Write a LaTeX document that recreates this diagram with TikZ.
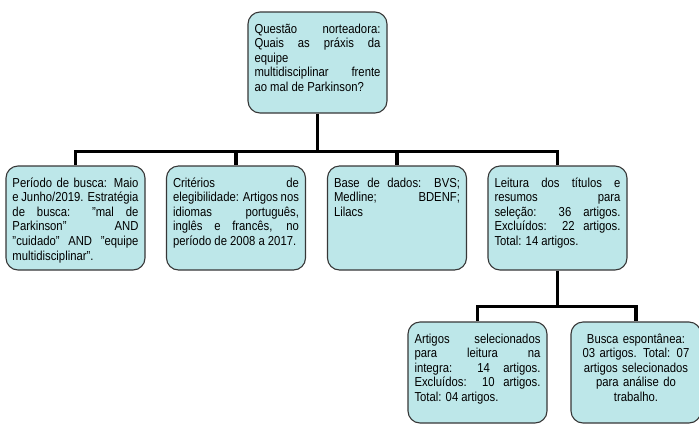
\documentclass[tikz,border=0pt]{standalone}
\usepackage{fontspec}
\setmainfont{Liberation Sans}[FakeStretch=0.87]
\usepackage{tikz}
\hyphenpenalty=10000
\exhyphenpenalty=10000
\tolerance=10000
\hbadness=10000
\definecolor{boxfill}{RGB}{189,231,233}
\definecolor{boxline}{RGB}{55,55,55}
\newcommand{\nl}{\linebreak}

\begin{document}
\begin{tikzpicture}[x=1pt,y=1pt,
  box/.style={draw=boxline, fill=boxfill, rounded corners=12pt, line width=1.1pt,
    text width=126pt, inner xsep=6.5pt, inner ysep=6pt, align=justify,
    text height=15pt, font=\fontsize{13}{14.6}\selectfont},
  conn/.style={line width=3.2pt}]
  \useasboundingbox (0,0) rectangle (699,-424);
  \node[box, text depth=74pt] (q) at (317.5,-62.5)
    {Questão norteadora:\nl Quais as práxis da\nl equipe\\multidisciplinar frente\nl ao mal de Parkinson?};
  \node[box, text depth=77pt] (busca) at (75.5,-218)
    {Período de busca: Maio\nl e Junho/2019. Estratégia\nl de busca: "mal de\nl Parkinson" AND\nl "cuidado" AND "equipe\nl multidisciplinar".};
  \node[box, text depth=77pt] (crit) at (236,-218)
    {Critérios de\nl elegibilidade: Artigos nos\nl idiomas português,\nl inglês e francês, no\nl período de 2008 a 2017.};
  \node[box, text depth=77pt] (base) at (397,-218)
    {Base de dados: BVS;\nl Medline; BDENF;\nl Lilacs};
  \node[box, text depth=77pt] (leit) at (557.5,-218)
    {Leitura dos títulos e\nl resumos para\nl seleção: 36 artigos.\nl Excluídos: 22 artigos.\nl Total: 14 artigos.};
  \node[box, text depth=74pt] (sel) at (477.5,-372.5)
    {Artigos selecionados\nl para leitura na\nl integra: 14 artigos.\nl Excluídos: 10 artigos.\nl Total: 04 artigos.};
  \node[box, text depth=74pt, text width=117pt, align=center] (esp) at (636,-372.5)
    {Busca espontânea:\\03 artigos. Total: 07\\artigos selecionados\\para análise do\\trabalho.};
  \draw[conn] (q.south) -- ++(0,-38) coordinate (j1);
  \foreach \n in {busca,crit,base,leit}
    \draw[conn] (j1) -| (\n.north);
  \draw[conn] (leit.south) -- ++(0,-36) coordinate (j2);
  \foreach \n in {sel,esp}
    \draw[conn] (j2) -| (\n.north);
\end{tikzpicture}
\end{document}
